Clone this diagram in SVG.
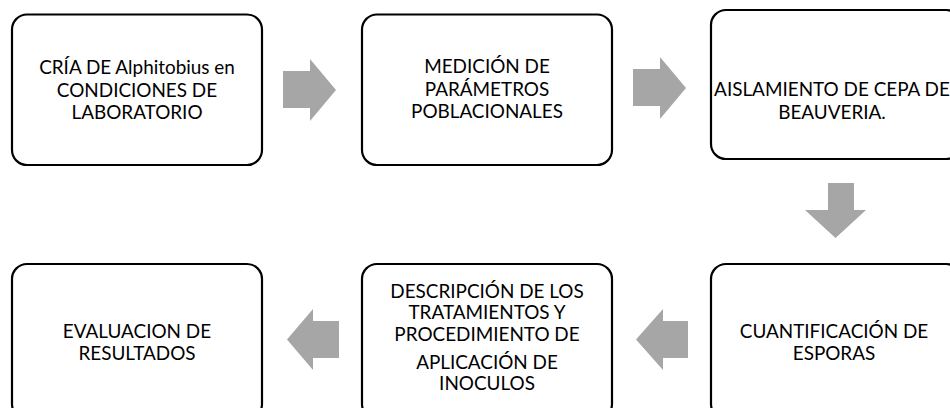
<svg xmlns="http://www.w3.org/2000/svg" width="950" height="408" viewBox="0 0 950 408">
<style>
.box{fill:#fff;stroke:#000;stroke-width:2.2}
.t{font-family:Lato,"Open Sans","Liberation Sans",sans-serif;font-size:18.9px;fill:#000;text-anchor:middle}
.arr{fill:#a6a6a6}
</style>
<rect width="950" height="408" fill="#fff"/>
<g id="connectors">
<polygon class="arr" points="283,71 310,71 310,59 336,90 310,121 310,108 283,108"/>
<polygon class="arr" points="633,69 660,69 660,57 686,88 660,119 660,106 633,106"/>
<polygon class="arr" points="828,183 854,183 854,210 866,210 835.5,238 805,210 828,210"/>
<polygon class="arr" points="339,321 313,321 313,309 287,339.5 313,370 313,358 339,358"/>
<polygon class="arr" points="688,321 663,321 663,309 636,339.5 663,370 663,358 688,358"/>
</g>
<g id="n1">
<rect class="box" x="12" y="14.5" width="250" height="150.5" rx="15"/>
<text class="t"><tspan x="137" y="74">CRÍA DE Alphitobius en</tspan><tspan x="137" y="96.7">CONDICIONES DE</tspan><tspan x="137" y="119.3">LABORATORIO</tspan></text>
</g>
<g id="n2">
<rect class="box" x="362" y="14.5" width="250" height="150.5" rx="15"/>
<text class="t"><tspan x="487" y="73">MEDICIÓN DE</tspan><tspan x="487" y="95.7">PARÁMETROS</tspan><tspan x="487" y="118.4">POBLACIONALES</tspan></text>
</g>
<g id="n3">
<rect class="box" x="711" y="10" width="250" height="149" rx="15"/>
<text class="t"><tspan x="832" y="96">AISLAMIENTO DE CEPA DE</tspan><tspan x="832" y="118.5">BEAUVERIA.</tspan></text>
</g>
<g id="n4">
<rect class="box" x="711" y="264" width="250" height="155" rx="15"/>
<text class="t"><tspan x="834" y="337.5">CUANTIFICACIÓN DE</tspan><tspan x="834" y="359.5">ESPORAS</tspan></text>
</g>
<g id="n5">
<rect class="box" x="362" y="264" width="250" height="155" rx="15"/>
<text class="t"><tspan x="487" y="297.5">DESCRIPCIÓN DE LOS</tspan><tspan x="487" y="319.3">TRATAMIENTOS Y</tspan><tspan x="487" y="341">PROCEDIMIENTO DE</tspan><tspan x="487" y="368.5">APLICACIÓN DE</tspan><tspan x="487" y="390.2">INOCULOS</tspan></text>
</g>
<g id="n6">
<rect class="box" x="12" y="264" width="250" height="155" rx="15"/>
<text class="t"><tspan x="137" y="337.5">EVALUACION DE</tspan><tspan x="137" y="359.5">RESULTADOS</tspan></text>
</g>
</svg>
